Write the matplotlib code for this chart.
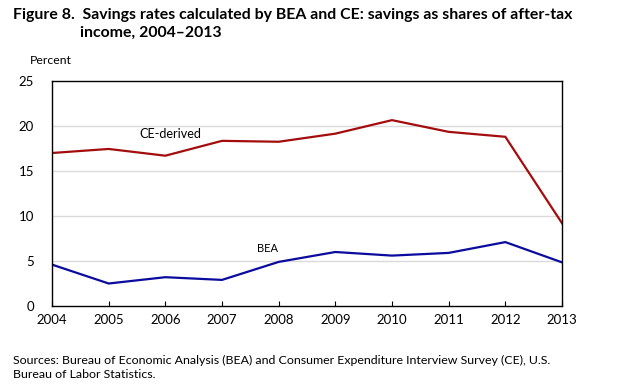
import matplotlib
matplotlib.use("Agg")
from matplotlib import pyplot as plt

plt.rcParams['font.family'] = ['Lato', 'DejaVu Sans']

years = [2004, 2005, 2006, 2007, 2008, 2009, 2010, 2011, 2012, 2013]
ce_derived = [17.0, 17.45, 16.7, 18.35, 18.25, 19.15, 20.65, 19.35, 18.8, 9.2]
bea = [4.6, 2.5, 3.2, 2.9, 4.9, 6.0, 5.6, 5.9, 7.1, 4.85]
yticks = [0, 5, 10, 15, 20, 25]

W, H = 623, 391
fig = plt.figure(figsize=(W / 100, H / 100), dpi=100)
ax = fig.add_axes([52 / W, 1 - 306 / H, 510 / W, 225 / H])

ax.plot(years, ce_derived, color='#A30D0D', lw=1.6, solid_joinstyle='miter')
ax.plot(years, bea, color='#0B0B9E', lw=1.6, solid_joinstyle='miter')

ax.set_xlim(2004, 2013)
ax.set_ylim(0, 25)
ax.set_yticks(yticks)
ax.set_xticks(years)
for y in yticks[1:-1]:
    ax.axhline(y, color='#DADADA', lw=1, zorder=0)

ax.tick_params(axis='y', length=0, pad=13, labelsize=9.5)
ax.tick_params(axis='x', direction='in', length=3.5, width=0.8, pad=6, labelsize=9.5)
for s in ax.spines.values():
    s.set_linewidth(1.0)
    s.set_color('black')

renderer = fig.canvas.get_renderer()


def fit(t, width_px):
    # scale font size so the text spans the measured width
    w = t.get_window_extent(renderer).width
    t.set_fontsize(t.get_fontsize() * width_px / w)
    return t


fit(fig.text(139 / W, 1 - 134 / H, 'CE-derived', fontsize=10, va='center'), 62)
fit(fig.text(257 / W, 1 - 248 / H, 'BEA', fontsize=10, va='center'), 21)

title = fit(fig.text(13 / W, 1 - 15 / H,
                     'Figure 8.  Savings rates calculated by BEA and CE: savings as shares of after-tax',
                     fontsize=12, fontweight='bold', va='center'), 557)
fig.text(80 / W, 1 - 33 / H, 'income, 2004\u20132013', fontsize=title.get_fontsize(),
         fontweight='bold', va='center')
fit(fig.text(30 / W, 1 - 60 / H, 'Percent', fontsize=10, va='center'), 42)
src = fit(fig.text(13 / W, 1 - 360 / H,
                   'Sources: Bureau of Economic Analysis (BEA) and Consumer Expenditure Interview Survey (CE), U.S.',
                   fontsize=10, va='center'), 542)
fig.text(13 / W, 1 - 375 / H, 'Bureau of Labor Statistics.', fontsize=src.get_fontsize(), va='center')

fig.savefig('out.png', dpi=100)
